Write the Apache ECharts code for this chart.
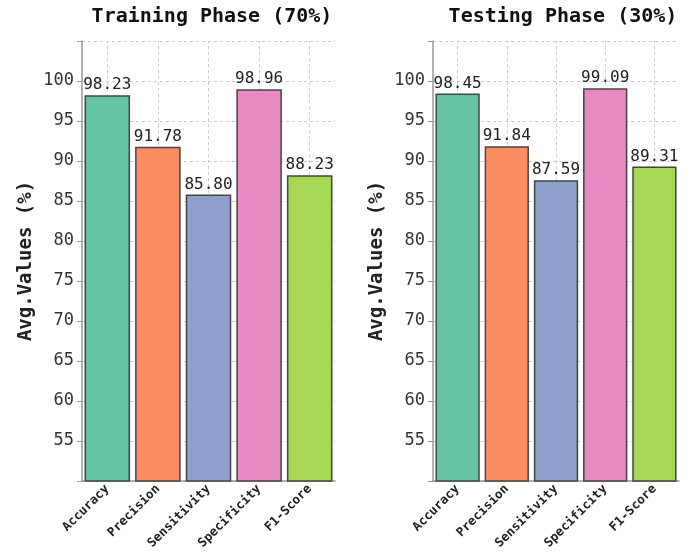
<!DOCTYPE html>
<html>
<head>
<meta charset="utf-8">
<script src="https://cdn.jsdelivr.net/npm/echarts@6/dist/echarts.min.js"></script>
<style>
  html, body { margin: 0; padding: 0; background: #fff; }
  #chart { width: 690px; height: 558px; }
</style>
</head>
<body>
<div id="chart"></div>
<script>
// metrics per phase
const categories = ['Accuracy', 'Precision', 'Sensitivity', 'Specificity', 'F1-Score'];
const trainValues = [98.23, 91.78, 85.80, 98.96, 88.23];
const testValues = [98.45, 91.84, 87.59, 99.09, 89.31];
const barColors = ['#66c2a5', '#fc8d62', '#8da0cb', '#e78ac3', '#a6d854'];
const panelTitles = ['Training Phase (70%)', 'Testing Phase (30%)'];
const yName = 'Avg.Values (%)';

const mono = '"DejaVu Sans Mono", monospace';
const gridLine = { color: '#ccc', type: [3, 3], width: 1 };
const grids = [
  { left: 82, top: 41, width: 253, height: 440 },
  { left: 433, top: 41, width: 246, height: 440 }
];

let chart = echarts.init(document.getElementById('chart'));

let xAxes = grids.map((g, i) => {
  return {
    type: 'category',
    gridIndex: i,
    data: categories,
    axisLine: { show: true, lineStyle: { color: '#999', width: 1.5 } },
    axisTick: { show: false },
    splitLine: { show: false },
    axisLabel: {
      rotate: 45,
      interval: 0,
      margin: 6,
      fontFamily: mono,
      fontWeight: 'bold',
      fontSize: 12.5,
      color: '#222'
    }
  };
});

let yAxes = grids.map((g, i) => {
  return {
    type: 'value',
    gridIndex: i,
    min: 50,
    max: 105,
    interval: 5,
    name: yName,
    nameLocation: 'middle',
    nameGap: 46,
    nameTextStyle: { fontFamily: mono, fontWeight: 'bold', fontSize: 19, color: '#222' },
    axisLine: { show: true, lineStyle: { color: '#999', width: 1.5 } },
    axisTick: { show: true, length: 5, lineStyle: { color: '#999' } },
    splitLine: { show: true, lineStyle: gridLine },
    axisLabel: {
      margin: 8,
      fontFamily: mono,
      fontSize: 17,
      color: '#333',
      formatter: v => (v === 50 || v === 105) ? '' : String(v)
    }
  };
});

let makeSeries = (values, i) => {
  return {
    type: 'bar',
    xAxisIndex: i,
    yAxisIndex: i,
    z: 2,
    barCategoryGap: '10%',
    data: values.map((v, k) => {
      return { value: v, itemStyle: { color: barColors[k] } };
    }),
    itemStyle: { borderColor: '#444', borderWidth: 1.5 },
    label: {
      show: true,
      position: 'top',
      distance: 2,
      fontFamily: mono,
      fontSize: 16,
      color: '#222',
      formatter: p => p.value.toFixed(2)
    },
    // vertical grid at the category centres, behind the bars
    markLine: {
      z: 1,
      silent: true,
      symbol: 'none',
      label: { show: false },
      lineStyle: gridLine,
      data: categories.map(c => ({ xAxis: c }))
    }
  };
};

chart.setOption({
  animation: false,
  title: panelTitles.map((t, i) => {
    return {
      text: t,
      left: i === 0 ? 207 : 558,
      top: 2,
      textAlign: 'center',
      textStyle: { fontFamily: mono, fontWeight: 'bold', fontSize: 20, color: '#111' }
    };
  }),
  grid: grids,
  xAxis: xAxes,
  yAxis: yAxes,
  series: [makeSeries(trainValues, 0), makeSeries(testValues, 1)]
});
</script>
</body>
</html>
